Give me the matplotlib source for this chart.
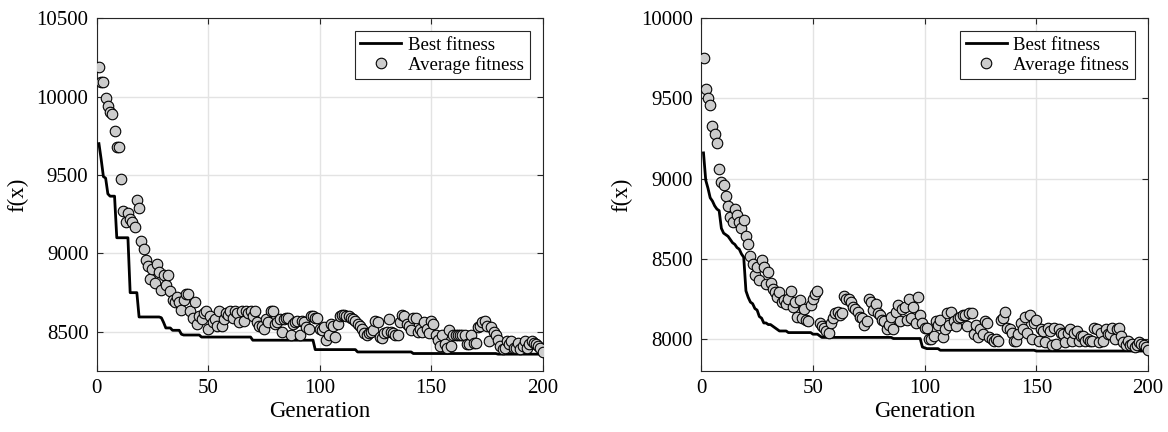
import matplotlib
matplotlib.use("Agg")
import matplotlib.pyplot as plt
import numpy as np

plt.rcParams["font.family"] = ["Liberation Serif", "DejaVu Serif"]

GENERATIONS = np.arange(1, 201)

# left run: average fitness per generation
AVG_LEFT = [
    10190, 10090, 10090, 9990, 9940, 9900, 9890, 9780, 9680, 9680,
    9475, 9270, 9200, 9260, 9220, 9200, 9170, 9340, 9290, 9080,
    9030, 8960, 8920, 8840, 8900, 8810, 8930, 8880, 8770, 8860,
    8800, 8860, 8760, 8700, 8690, 8720, 8690, 8640, 8700, 8740,
    8740, 8630, 8590, 8690, 8550, 8600, 8580, 8620, 8630, 8520,
    8600, 8560, 8580, 8540, 8630, 8540, 8580, 8620, 8610, 8630,
    8590, 8630, 8620, 8560, 8630, 8570, 8630, 8620, 8630, 8600,
    8630, 8560, 8540, 8540, 8520, 8580, 8560, 8630, 8630, 8550,
    8560, 8580, 8500, 8580, 8590, 8590, 8480, 8550, 8560, 8570,
    8480, 8570, 8560, 8530, 8520, 8600, 8600, 8590, 8590, 8520,
    8510, 8530, 8450, 8480, 8550, 8540, 8470, 8550, 8600, 8610,
    8610, 8600, 8600, 8590, 8580, 8570, 8550, 8540, 8520, 8490,
    8480, 8490, 8500, 8510, 8570, 8560, 8470, 8460, 8490, 8500,
    8580, 8500, 8490, 8480, 8480, 8560, 8610, 8600, 8550, 8540,
    8510, 8590, 8590, 8500, 8520, 8500, 8560, 8520, 8490, 8570,
    8550, 8480, 8450, 8410, 8480, 8420, 8400, 8510, 8410, 8480,
    8480, 8480, 8480, 8480, 8480, 8420, 8420, 8480, 8430, 8430,
    8530, 8540, 8560, 8570, 8540, 8440, 8530, 8500, 8480, 8450,
    8410, 8390, 8400, 8440, 8420, 8440, 8400, 8400, 8430, 8390,
    8410, 8440, 8400, 8420, 8440, 8430, 8420, 8410, 8400, 8370,
]

# left run: best fitness, value held from each start generation
BEST_LEFT_START = [1, 2, 3, 4, 5, 6, 9, 15, 19, 29, 30, 31, 34, 38, 39, 47, 70, 98, 117, 142, 180]
BEST_LEFT_VALUE = [9700, 9600, 9490, 9480, 9380, 9365, 9100, 8750, 8595, 8590,
                   8560, 8525, 8510, 8485, 8480, 8467, 8447, 8387, 8372, 8362, 8358]

# right run: average fitness per generation
AVG_RIGHT = [
    9750, 9560, 9500, 9460, 9330, 9280, 9220, 9060, 8980, 8960,
    8890, 8830, 8760, 8730, 8810, 8770, 8730, 8690, 8740, 8640,
    8590, 8520, 8470, 8400, 8450, 8370, 8490, 8450, 8340, 8420,
    8350, 8310, 8290, 8260, 8290, 8230, 8240, 8220, 8250, 8300,
    8200, 8230, 8140, 8240, 8130, 8190, 8120, 8110, 8210, 8250,
    8280, 8300, 8100, 8080, 8070, 8050, 8040, 8100, 8130, 8160,
    8170, 8150, 8160, 8270, 8250, 8250, 8230, 8200, 8190, 8170,
    8140, 8130, 8090, 8110, 8250, 8230, 8180, 8220, 8160, 8150,
    8120, 8110, 8060, 8090, 8140, 8060, 8170, 8210, 8110, 8190,
    8200, 8120, 8250, 8130, 8200, 8100, 8260, 8150, 8100, 8070,
    8070, 8000, 8000, 8020, 8110, 8090, 8120, 8010, 8060, 8160,
    8090, 8170, 8110, 8080, 8130, 8140, 8150, 8150, 8080, 8160,
    8160, 8030, 8090, 8010, 8060, 8030, 8110, 8100, 8010, 8000,
    7990, 8000, 7990, 8120, 8130, 8170, 8070, 8060, 8040, 7990,
    7990, 8030, 8100, 8060, 8140, 8040, 8150, 8000, 8100, 8120,
    7990, 8060, 8050, 7980, 8070, 8050, 7960, 8070, 7970, 8060,
    8040, 8030, 7980, 8040, 8060, 7990, 8040, 8050, 7990, 8020,
    8020, 7990, 8000, 7990, 7990, 8070, 8060, 7980, 8040, 7990,
    8060, 8030, 8030, 8070, 8000, 8060, 8070, 8020, 7980, 7960,
    7990, 7960, 7970, 7950, 7960, 7980, 7970, 7960, 7950, 7930,
]

BEST_RIGHT_START = [1, 2, 3, 4, 5, 6, 7, 8, 9, 10, 11, 12, 13, 14, 15, 16, 17, 18, 19, 20,
                    21, 22, 23, 24, 25, 26, 27, 28, 30, 32, 33, 34, 35, 39, 50, 53, 54, 86,
                    99, 100, 101, 107, 150]
BEST_RIGHT_VALUE = [9160, 8990, 8940, 8880, 8860, 8830, 8810, 8800, 8690, 8660,
                    8650, 8640, 8620, 8600, 8590, 8570, 8560, 8530, 8510, 8300,
                    8260, 8230, 8220, 8190, 8180, 8140, 8130, 8100, 8090, 8080,
                    8070, 8060, 8050, 8040, 8030, 8020, 8010, 8003,
                    7950, 7945, 7940, 7930, 7925]

PANELS = [
    (AVG_LEFT, BEST_LEFT_START, BEST_LEFT_VALUE, (8250, 10500), [8500, 9000, 9500, 10000, 10500]),
    (AVG_RIGHT, BEST_RIGHT_START, BEST_RIGHT_VALUE, (7800, 10000), [8000, 8500, 9000, 9500, 10000]),
]


def expand_steps(starts, values, n=200):
    ends = list(starts[1:]) + [n + 1]
    counts = [e - s for s, e in zip(starts, ends)]
    return np.repeat(values, counts)


fig = plt.figure(figsize=(11.68, 4.32), dpi=100)
axes_rects = [[0.0828, 0.141, 0.3818, 0.817], [0.6004, 0.141, 0.3825, 0.817]]

for rect, (avg, b_start, b_val, ylim, yticks) in zip(axes_rects, PANELS):
    ax = fig.add_axes(rect)
    best = expand_steps(b_start, b_val)
    ax.plot(GENERATIONS, best, color="black", lw=2.0, label="Best fitness", zorder=3)
    ax.plot(GENERATIONS, avg, ls="none", marker="o", ms=7.6, mfc="#cccccc",
            mec="black", mew=0.8, label="Average fitness", zorder=4)
    ax.set_xlim(0, 200)
    ax.set_ylim(*ylim)
    ax.set_xticks([0, 50, 100, 150, 200])
    ax.set_yticks(yticks)
    ax.grid(True, color="#e3e3e3", lw=1.0)
    ax.set_axisbelow(True)
    ax.tick_params(direction="in", top=True, right=True, labelsize=15,
                   length=4, width=0.8, color="#262626", pad=6)
    for spine in ax.spines.values():
        spine.set_color("#262626")
        spine.set_linewidth(0.8)
    ax.set_xlabel("Generation", fontsize=16.5, labelpad=2)
    ax.set_ylabel("f(x)", fontsize=16.5, labelpad=6)
    leg = ax.legend(loc="upper right", fontsize=13.5, frameon=True, fancybox=False,
                    framealpha=1, edgecolor="#262626", borderpad=0.3, labelspacing=0.1,
                    handlelength=2.2, handletextpad=0.35, borderaxespad=0.7)
    leg.get_frame().set_linewidth(0.8)

fig.savefig("out.png", dpi=100)
